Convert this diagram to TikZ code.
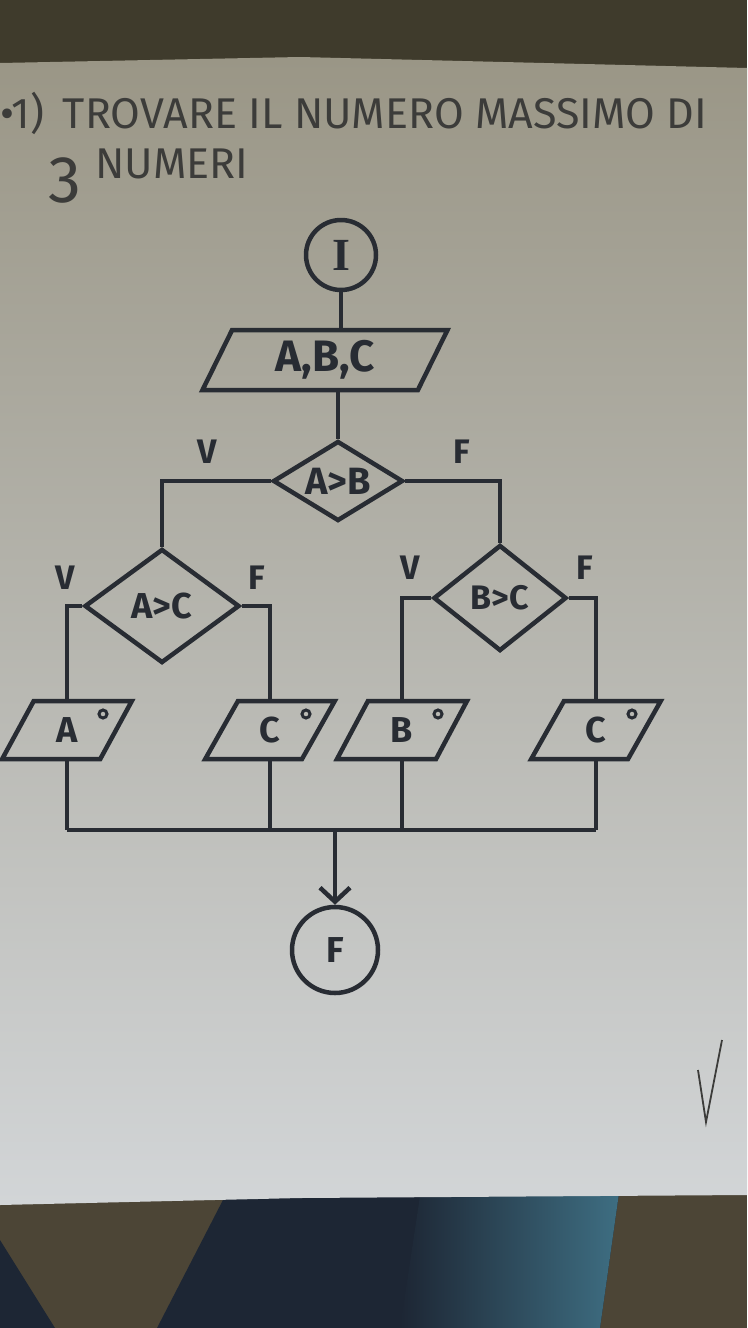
\documentclass[tikz,border=0pt]{standalone}
\usepackage{fontspec}
\setmainfont{Fira Sans}
\newfontfamily\serifhand{Liberation Serif}
\usepackage{xcolor}
\usetikzlibrary{shapes.geometric, arrows.meta, positioning, calc}

\definecolor{ink}{HTML}{282C33}
\definecolor{pen}{HTML}{3C3C3A}
\definecolor{desk}{HTML}{3F3B2C}
\definecolor{papertop}{HTML}{9A9686}
\definecolor{papermid}{HTML}{C9CACA}
\definecolor{paperbot}{HTML}{D2D5D7}
\definecolor{cloth}{HTML}{1D2634}
\definecolor{clothlight}{HTML}{3E6E82}
\definecolor{floor}{HTML}{4C4536}

\begin{document}
\begin{tikzpicture}[
    x=1pt, y=-1pt,
    term/.style={circle, draw=ink, line width=4.5pt, minimum size=70pt, inner sep=0pt, text=ink, font=\bfseries\fontsize{36}{40}\selectfont},
    io/.style={trapezium, trapezium left angle=68, trapezium right angle=112, trapezium stretches=true, draw=ink, line width=4.5pt, minimum width=130pt, minimum height=58pt, inner sep=0pt, text=ink, font=\bfseries\fontsize{36}{40}\selectfont},
    test/.style={diamond, aspect=1.6, draw=ink, line width=4.5pt, inner sep=0pt, text=ink, font=\bfseries\fontsize{38}{40}\selectfont},
    tag/.style={text=ink, font=\bfseries\fontsize{34}{36}\selectfont},
    note/.style={text=pen, inner sep=0pt, font=\fontsize{43}{46}\selectfont},
    wire/.style={draw=ink, line width=4.5pt}
]

\useasboundingbox (0,0) rectangle (747,1328);
\fill[desk] (0,0) rectangle (747,1328);
\fill[floor] (0,1190) rectangle (747,1328);
\fill[cloth] (224,1198) -- (619,1193) -- (600,1328) -- (157,1328) -- cycle;
\shade[left color=cloth, right color=clothlight] (420,1196) -- (619,1193) -- (600,1328) -- (400,1328) -- cycle;
\fill[cloth] (0,1240) -- (55,1328) -- (0,1328) -- cycle;
\shade[top color=papertop, middle color=papermid, bottom color=paperbot] (0,63) -- (300,57) -- (747,68) -- (747,1195) -- (300,1198) -- (0,1205) -- cycle;

\node[note, anchor=base west] (title) at (0,128) {\textbullet1)\, TROVARE IL NUMERO MASSIMO DI};
\node[note, anchor=base west, font=\fontsize{66}{68}\selectfont] (three) at (48,202) {3};
\node[note, anchor=base west] (numeri) at (95,178) {NUMERI};

\node[term, font=\serifhand\bfseries\fontsize{46}{48}\selectfont] (start) at (341,255) {I};
\node[io, minimum width=245pt, minimum height=60pt, font=\bfseries\fontsize{44}{46}\selectfont] (input) at (325,360) {A,B,C};
\node[test, minimum width=130pt, minimum height=80pt] (ab) at (338,481) {A>B};
\node[test, minimum width=155pt, minimum height=114pt, font=\bfseries\fontsize{36}{38}\selectfont] (ac) at (162,606) {A>C};
\node[test, minimum width=133pt, minimum height=106pt, font=\bfseries\fontsize{34}{36}\selectfont] (bc) at (500,598) {B>C};

\node[tag] (vab) at (207,452) {V};
\node[tag] (fab) at (462,452) {F};
\node[tag] (vac) at (65,578) {V};
\node[tag] (fac) at (257,578) {F};
\node[tag] (vbc) at (410,568) {V};
\node[tag] (fbc) at (585,568) {F};

\node[io] (outa) at (67,730) {A};
\node[io] (outc) at (270,730) {C};
\node[io] (outb) at (402,730) {B};
\node[io] (outd) at (596,730) {C};
\foreach \n in {outa,outc,outb,outd}
    \draw[ink, line width=3pt] ($(\n.center)+(36,-16)$) circle (4);

\node[term, minimum size=86pt] (stop) at (335,950) {F};
\coordinate (join) at (335,830);

\draw[wire] (start) -- (start |- input.north);
\draw[wire] (input.south -| ab.north) -- (ab.north);
\draw[wire] (ab.west) -| (ac.north);
\draw[wire] (ab.east) -| (bc.north);
\draw[wire] (ac.west) -| (outa.north);
\draw[wire] (ac.east) -| (outc.north);
\draw[wire] (bc.west) -| (outb.north);
\draw[wire] (bc.east) -| (outd.north);
\foreach \n in {outa,outc,outb,outd}
    \draw[wire] (\n.south) -- (\n.south |- join);
\draw[wire] (outa.south |- join) -- (outd.south |- join);
\draw[wire, -{Straight Barb[length=14pt, width=30pt, line width=4.5pt]}] (join) -- (stop.north);

\draw[pen, line width=1.8pt] (698,1070) -- (706,1122) -- (722,1040);

\end{tikzpicture}
\end{document}
